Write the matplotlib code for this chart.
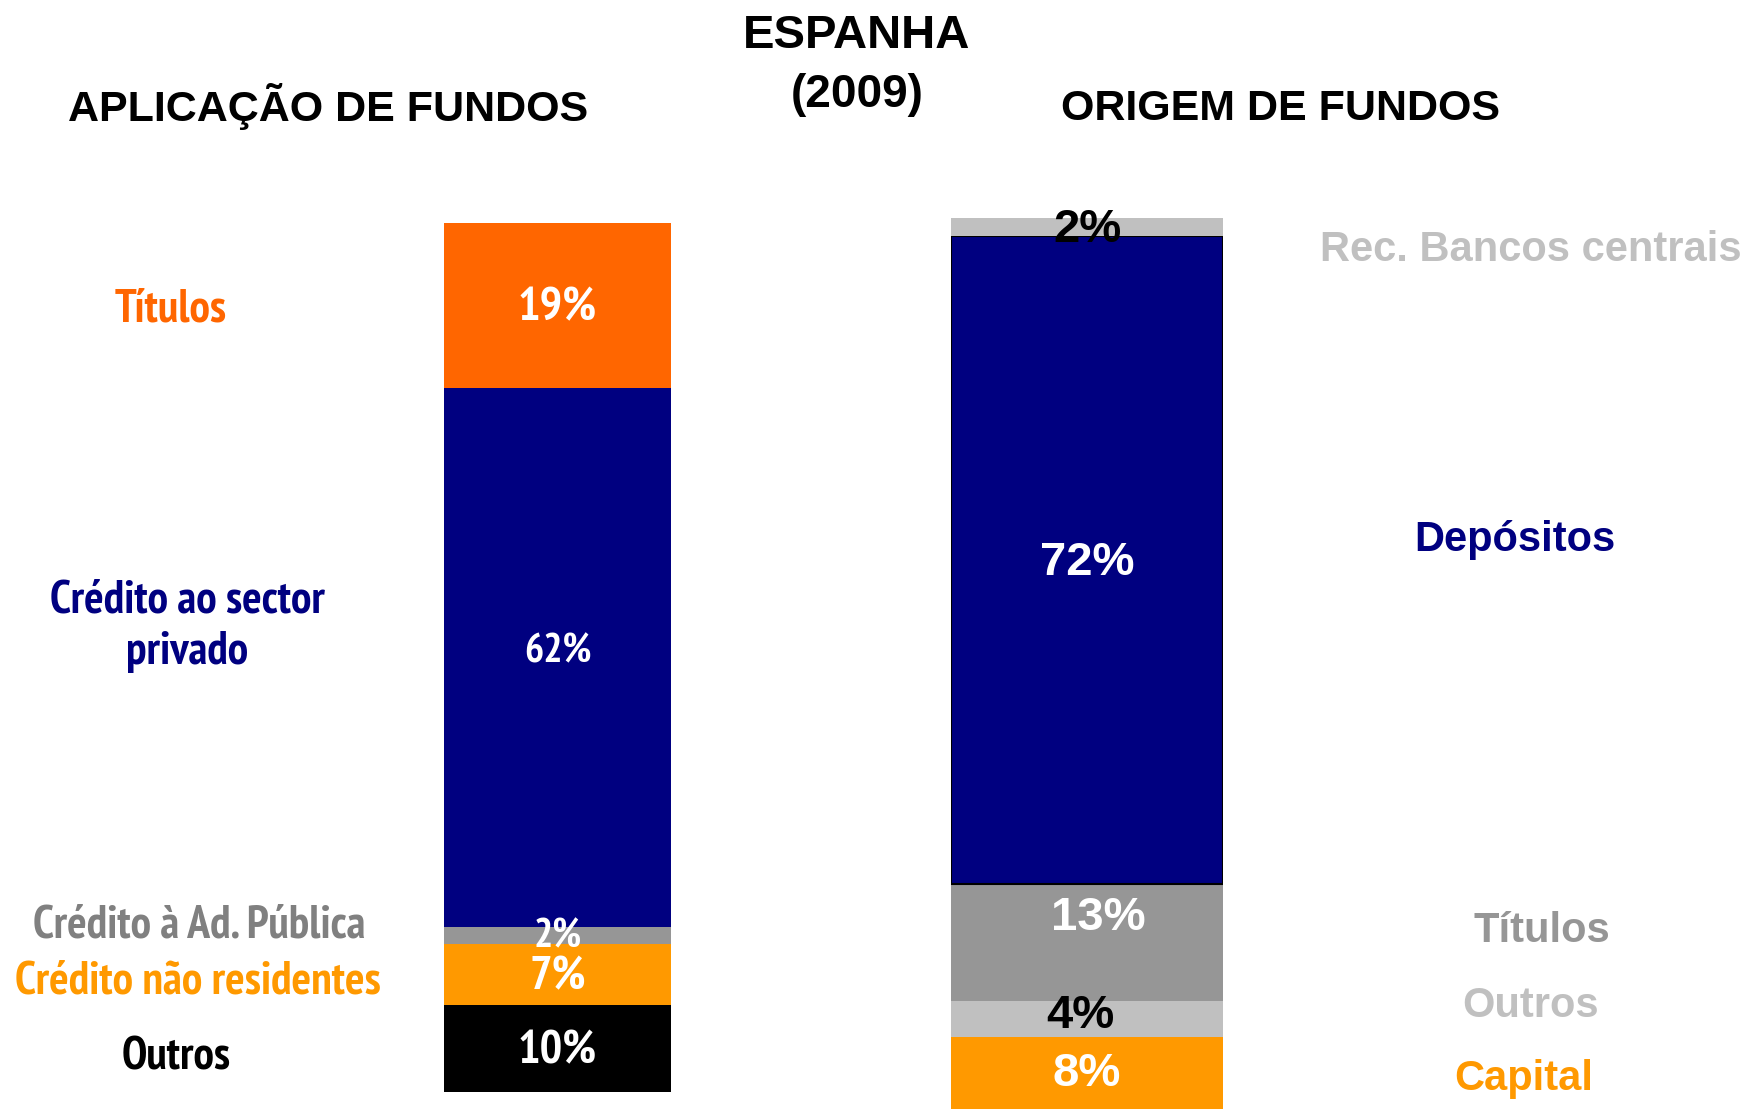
import matplotlib
matplotlib.use("Agg")
import matplotlib.pyplot as plt
from matplotlib import font_manager

# dados - aplicação de fundos (de baixo para cima)
aplic_nomes = ["Outros", "Crédito não residentes", "Crédito à Ad. Pública",
               "Crédito ao sector\nprivado", "Títulos"]
aplic_vals = [10, 7, 2, 62, 19]
aplic_cores = ["#000000", "#FF9900", "#969696", "#000080", "#FF6600"]
aplic_txt_cores = ["#000000", "#FF9900", "#808080", "#000080", "#FF6600"]

# dados - origem de fundos (de baixo para cima)
orig_nomes = ["Capital", "Outros", "Títulos", "Depósitos", "Rec. Bancos centrais"]
orig_vals = [8, 4, 13, 72, 2]
orig_cores = ["#FF9900", "#C0C0C0", "#969696", "#000080", "#C0C0C0"]
orig_txt_cores = ["#FF9900", "#C0C0C0", "#969696", "#000080", "#C0C0C0"]
orig_val_cores = ["white", "black", "white", "white", "black"]

# fonte estreita (tipo Arial Narrow) se houver
negritas = {f.name for f in font_manager.fontManager.ttflist if f.weight in (700, "bold")}
NARROW = "DejaVu Sans"
for nome in ["Liberation Sans Narrow", "Arial Narrow", "PT Sans Narrow",
             "IBM Plex Sans Condensed", "Open Sans Condensed"]:
    if nome in negritas:
        NARROW = nome
        break
BOLD = "Liberation Sans"

W, H = 1751, 1109
fig = plt.figure(figsize=(W / 100, H / 100), dpi=100)


def px(x, y):
    return x / W, 1 - (y + 4) / H


# títulos
fig.text(*px(857, 32), "ESPANHA", ha="center", va="center", fontsize=34,
         fontweight="bold", family=BOLD)
fig.text(*px(857, 91), "(2009)", ha="center", va="center", fontsize=33,
         fontweight="bold", family=BOLD)
fig.text(*px(328, 102), "APLICAÇÃO DE FUNDOS", ha="center", va="center",
         fontsize=31, fontweight="bold", family=BOLD)
fig.text(*px(1280, 105), "ORIGEM DE FUNDOS", ha="center", va="center",
         fontsize=31, fontweight="bold", family=BOLD)

# barra esquerda
ax1 = fig.add_axes([444 / W, 1 - 1092 / H, 227 / W, 869 / H])
base = 0
for v, c in zip(aplic_vals, aplic_cores):
    ax1.bar(0, v, bottom=base, width=1, color=c, edgecolor="none")
    base += v
ax1.set_xlim(-0.5, 0.5)
ax1.set_ylim(0, sum(aplic_vals))
ax1.axis("off")

# rótulos de valor (esquerda)
aplic_tam = [34, 34, 29, 29, 34]
aplic_desl = [-2, -2, -1, 4, -2]
base = 0
for v, t, d in zip(aplic_vals, aplic_tam, aplic_desl):
    ax1.annotate(f"{v}%", (0, base + v / 2), xytext=(0, d), textcoords="offset points",
                 ha="center", va="center", color="white", fontsize=t,
                 fontweight="bold", family=NARROW)
    base += v

# barra direita
ax2 = fig.add_axes([951 / W, 0, 272 / W, 891 / H])
base = 0
for v, c in zip(orig_vals, orig_cores):
    ec = "black" if c == "#000080" else "none"
    ax2.bar(0, v, bottom=base, width=1, color=c, edgecolor=ec, linewidth=1.5)
    base += v
ax2.set_xlim(-0.5, 0.5)
ax2.set_ylim(0, sum(orig_vals))
ax2.axis("off")

orig_desl_x = [0, -5, 8, 0, 0]
orig_desl_y = [-1, 2, 18, -2, -2]
base = 0
for v, c, dx, dy in zip(orig_vals, orig_val_cores, orig_desl_x, orig_desl_y):
    ax2.annotate(f"{v}%", (0, base + v / 2), xytext=(dx, dy), textcoords="offset points",
                 ha="center", va="center", color=c, fontsize=34,
                 fontweight="bold", family=BOLD, annotation_clip=False)
    base += v

# legendas laterais
aplic_pos = [(176, 1053), (198, 977), (199, 921), (187, 622), (171, 305)]
for nome, cor, (x, y) in zip(aplic_nomes, aplic_txt_cores, aplic_pos):
    fig.text(*px(x, y), nome, ha="center", va="center", color=cor, fontsize=33,
             fontweight="bold", family=NARROW, linespacing=1.3)

orig_pos = [(1524, 1075), (1531, 1002), (1542, 927), (1515, 536), (1531, 246)]
for nome, cor, (x, y) in zip(orig_nomes, orig_txt_cores, orig_pos):
    fig.text(*px(x, y), nome, ha="center", va="center", color=cor, fontsize=30,
             fontweight="bold", family=BOLD)

fig.savefig("out.png", dpi=100, facecolor="white")
